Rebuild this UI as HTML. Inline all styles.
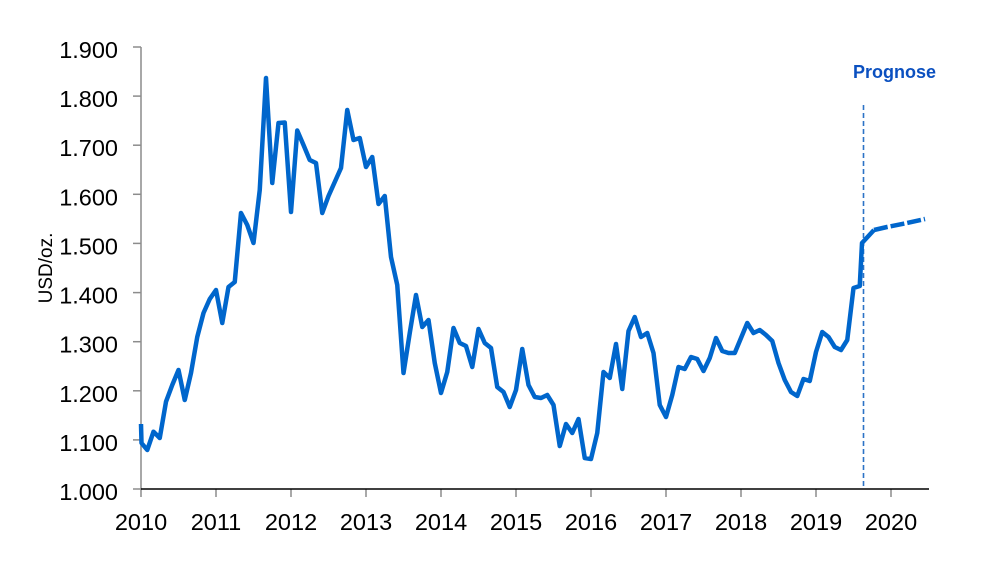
<!DOCTYPE html>
<html><head><meta charset="utf-8"><style>
html,body{margin:0;padding:0;background:#fff;}
svg{display:block;font-family:"Liberation Sans",Arial,sans-serif;}
</style></head><body>
<svg width="1000" height="561" viewBox="0 0 1000 561" xmlns="http://www.w3.org/2000/svg">
<rect width="1000" height="561" fill="#fff"/>
<!-- y axis -->
<line x1="141" y1="47" x2="141" y2="489" stroke="#8c8c8c" stroke-width="1.5"/>
<g stroke="#8c8c8c" stroke-width="1.5">
<line x1="133" y1="489" x2="141" y2="489"/>
<line x1="133" y1="439.9" x2="141" y2="439.9"/>
<line x1="133" y1="390.8" x2="141" y2="390.8"/>
<line x1="133" y1="341.7" x2="141" y2="341.7"/>
<line x1="133" y1="292.6" x2="141" y2="292.6"/>
<line x1="133" y1="243.4" x2="141" y2="243.4"/>
<line x1="133" y1="194.3" x2="141" y2="194.3"/>
<line x1="133" y1="145.2" x2="141" y2="145.2"/>
<line x1="133" y1="96.1" x2="141" y2="96.1"/>
<line x1="133" y1="47" x2="141" y2="47"/>
</g>
<g font-size="23.5" fill="#000" text-anchor="end">
<text x="118" y="500">1.000</text>
<text x="118" y="450.9">1.100</text>
<text x="118" y="401.8">1.200</text>
<text x="118" y="352.7">1.300</text>
<text x="118" y="303.6">1.400</text>
<text x="118" y="254.4">1.500</text>
<text x="118" y="205.3">1.600</text>
<text x="118" y="156.2">1.700</text>
<text x="118" y="107.1">1.800</text>
<text x="118" y="58">1.900</text>
</g>
<text transform="translate(52,268) rotate(-90)" font-size="19" text-anchor="middle" fill="#000">USD/oz.</text>
<!-- x axis ticks -->
<g stroke="#8c8c8c" stroke-width="1.5">
<line x1="141" y1="489" x2="141" y2="497"/>
<line x1="216" y1="489" x2="216" y2="497"/>
<line x1="291" y1="489" x2="291" y2="497"/>
<line x1="366" y1="489" x2="366" y2="497"/>
<line x1="441" y1="489" x2="441" y2="497"/>
<line x1="516" y1="489" x2="516" y2="497"/>
<line x1="591" y1="489" x2="591" y2="497"/>
<line x1="666" y1="489" x2="666" y2="497"/>
<line x1="741" y1="489" x2="741" y2="497"/>
<line x1="816" y1="489" x2="816" y2="497"/>
<line x1="891" y1="489" x2="891" y2="497"/>
</g>
<line x1="141" y1="489" x2="929" y2="489" stroke="#000" stroke-width="1.5"/>
<g font-size="23.5" fill="#000" text-anchor="middle">
<text x="141" y="530">2010</text>
<text x="216" y="530">2011</text>
<text x="291" y="530">2012</text>
<text x="366" y="530">2013</text>
<text x="441" y="530">2014</text>
<text x="516" y="530">2015</text>
<text x="591" y="530">2016</text>
<text x="666" y="530">2017</text>
<text x="741" y="530">2018</text>
<text x="816" y="530">2019</text>
<text x="891" y="530">2020</text>
</g>
<!-- forecast divider -->
<line x1="863.5" y1="105" x2="863.5" y2="487" stroke="#2c73c6" stroke-width="1.6" stroke-dasharray="5,3"/>
<text x="853" y="78" font-size="18" font-weight="bold" fill="#0b50c0">Prognose</text>
<!-- series -->
<polyline fill="none" stroke="#0066cc" stroke-width="4.5" stroke-linejoin="round" stroke-linecap="butt" points="
141,424 141.5,443 147.25,450 153.5,431.7 159.75,438 166,401.7 172.25,385 178.5,370 184.75,400 191,373 197.25,337 203.5,313 209.75,299 216,290 222.25,323 228.5,287 234.75,282 241,213 247.25,225 253.5,243 259.75,190 266,78 272.25,183 278.5,123 284.75,122.5 291,212 297.25,130.5 303.5,145 309.75,160 316,163 322.25,213 328.5,196 334.75,182 341,168 347.25,110 353.5,140 359.75,138 366,167 372.25,157 378.5,204 384.75,196 391,257 397.25,285 403.5,373 409.75,333 416,295 422.25,327 428.5,320 434.75,363 441,393 447.25,372 453.5,328 459.75,343 466,346 472.25,367 478.5,329 484.75,343 491,348 497.25,387 503.5,392 509.75,407 516,390 522.25,349 528.5,385 534.75,397 541,398 547.25,395 553.5,405 559.75,446 566,424 572.25,433 578.5,419 584.75,458 591,459 597.25,433 603.5,372 609.75,378 616,344 622.25,389 628.5,331 634.75,317 641,337 647.25,333 653.5,353 659.75,405 666,417 672.25,395 678.5,367 684.75,369 691,357 697.25,359 703.5,371 709.75,358 716,338 722.25,351 728.5,353 734.75,353 741,338 747.25,323 753.5,333 759.75,330 766,335 772.25,341 778.5,363 784.75,380 791,392 797.25,396 803.5,379 809.75,381 816,352 822.25,332 828.5,337 834.75,347 841,350 847.25,340 853.5,288 859.75,286 862,243 874,230"/>
<polyline fill="none" stroke="#0066cc" stroke-width="4.5" stroke-linejoin="round" stroke-dasharray="14,3" points="874,230 887,227 907,223 925,219"/>
</svg>
</body></html>
